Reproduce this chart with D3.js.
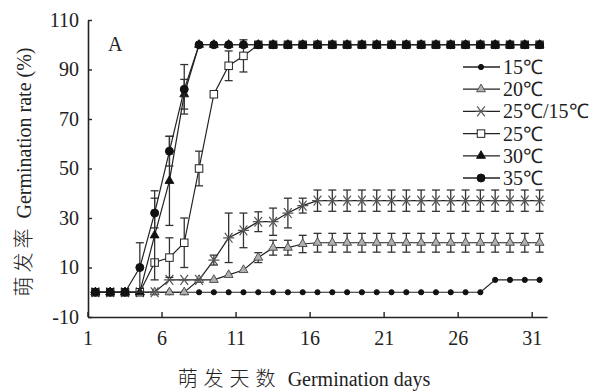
<!DOCTYPE html>
<html>
<head>
<meta charset="utf-8">
<script src="https://cdn.jsdelivr.net/npm/d3@7"></script>
<style>
  body { margin: 0; background: #fff; }
  svg { display: block; }
  text { font-family: "Liberation Serif", "Times New Roman", serif; fill: #222; }
</style>
</head>
<body>
<svg id="chart" width="596" height="392"></svg>
<script>
// days 1..31
const days = d3.range(1, 32);
const xTicks = [1, 6, 11, 16, 21, 26, 31];
const yTicks = [-10, 10, 30, 50, 70, 90, 110];

// germination rate (%) per day
const g15   = [0,0,0,0,0,0,0,0,0,0,0,0,0,0,0,0,0,0,0,0,0,0,0,0,0,0,0,5,5,5,5];
const g20   = [0,0,0,0,0,0,0,5,5,7,9,14,18,18,19.5,20,20,20,20,20,20,20,20,20,20,20,20,20,20,20,20];
const g2515 = [0,0,0,0,0,5,5,5,13,22,25,28.5,28.5,32,35,37,37,37,37,37,37,37,37,37,37,37,37,37,37,37,37];
const g25   = [0,0,0,0,12,14,20,50,80,91.5,95.5,100,100,100,100,100,100,100,100,100,100,100,100,100,100,100,100,100,100,100,100];
const g30   = [0,0,0,0,23,45,80,100,100,100,100,100,100,100,100,100,100,100,100,100,100,100,100,100,100,100,100,100,100,100,100];
const g35   = [0,0,0,10,32,57,82,100,100,100,100,100,100,100,100,100,100,100,100,100,100,100,100,100,100,100,100,100,100,100,100];

// standard errors
const e15   = [0,0,0,0,0,0,0,0,0,0,0,0,0,0,0,0,0,0,0,0,0,0,0,0,0,0,0,0,0,0,0];
const e20   = [0,0,0,0,0,0,0,0,0,0,0,2,3,3,3.5,3.8,3.8,3.8,3.8,3.8,3.8,3.8,3.8,3.8,3.8,3.8,3.8,3.8,3.8,3.8,3.8];
const e2515 = [0,0,0,0,0,0,0,0,2,10,7,4,5.5,6,3,4.3,4.3,4.3,4.3,4.3,4.3,4.3,4.3,4.3,4.3,4.3,4.3,4.3,4.3,4.3,4.3];
const e25   = [0,0,0,0,0,8,10,7,1,6,6.5,0,0,0,0,0,0,0,0,0,0,0,0,0,0,0,0,0,0,0,0];
const e30   = [0,0,0,0,18,18,6,0,0,0,0,0,0,0,0,0,0,0,0,0,0,0,0,0,0,0,0,0,0,0,0];
const e35   = [0,0,0,10,6,6,10,0,0,0,0,0,0,0,0,0,0,0,0,0,0,0,0,0,0,0,0,0,0,0,0];

const seriesNames = ["15℃", "20℃", "25℃/15℃", "25℃", "30℃", "35℃"];

const series = [
  { name: seriesNames[0], vals: g15,   errs: e15,   mark: "circle",   size: 2.6, fill: "#111", stroke: "#111" },
  { name: seriesNames[1], vals: g20,   errs: e20,   mark: "triangle", size: 34,  fill: "#b0b0b0", stroke: "#444" },
  { name: seriesNames[2], vals: g2515, errs: e2515, mark: "star",     size: 5.5, fill: "none", stroke: "#555" },
  { name: seriesNames[3], vals: g25,   errs: e25,   mark: "square",   size: 7.5, fill: "#fff", stroke: "#222" },
  { name: seriesNames[4], vals: g30,   errs: e30,   mark: "triangle", size: 34,  fill: "#111", stroke: "#111" },
  { name: seriesNames[5], vals: g35,   errs: e35,   mark: "circle",   size: 4,   fill: "#111", stroke: "#111" }
];

const svg = d3.select("#chart");
const mLeft = 88, mRight = 547, mTop = 20, mBottom = 317;

const x = d3.scaleBand().domain(days).range([mLeft, mRight]).padding(0);
const cx = d => x(d) + x.bandwidth() / 2;
const y = d3.scaleLinear().domain([-10, 110]).range([mBottom, mTop]);

// axes
const xAxis = d3.axisBottom(x).tickValues(xTicks).tickSize(-5).tickSizeOuter(0).tickPadding(14);
const gx = svg.append("g").attr("transform", `translate(0,${mBottom})`).call(xAxis);
gx.selectAll(".tick line").attr("transform", `translate(${-x.bandwidth() / 2},0)`);
gx.selectAll(".tick text").attr("transform", `translate(${-x.bandwidth() / 2},0)`);

const yAxis = d3.axisLeft(y).tickValues(yTicks).tickFormat(d => String(d))
  .tickSize(-4).tickSizeOuter(0).tickPadding(9);
const gy = svg.append("g").attr("transform", `translate(${mLeft},0)`).call(yAxis);

svg.selectAll(".domain").attr("stroke", "#222").attr("stroke-width", 1.6);
svg.selectAll(".tick line").attr("stroke", "#222").attr("stroke-width", 1.4);
svg.selectAll(".tick text").attr("font-size", 20).attr("font-family", "Liberation Serif").attr("fill", "#222");

// axis titles
svg.append("text")
  .attr("x", 304).attr("y", 386)
  .attr("text-anchor", "middle")
  .attr("font-size", 20)
  .html('<tspan font-family="Noto Sans CJK SC" font-weight="300" letter-spacing="6">萌发天数</tspan><tspan dx="6">Germination days</tspan>');

svg.append("text")
  .attr("transform", "translate(31,172) rotate(-90)")
  .attr("text-anchor", "middle")
  .attr("font-size", 20)
  .html('<tspan font-family="Noto Sans CJK SC" font-weight="300" letter-spacing="4">萌发率</tspan><tspan dx="6">Germination rate (%)</tspan>');

svg.append("text").attr("x", 108).attr("y", 51).attr("font-size", 20).text("A");

// marker drawing
function drawMark(g, s) {
  if (s.mark === "circle") {
    g.append("circle").attr("r", s.size).attr("fill", s.fill).attr("stroke", s.stroke);
  } else if (s.mark === "triangle") {
    g.append("path").attr("d", d3.symbol(d3.symbolTriangle, s.size)())
      .attr("fill", s.fill).attr("stroke", s.stroke).attr("stroke-width", 0.9);
  } else if (s.mark === "square") {
    g.append("rect").attr("x", -s.size / 2).attr("y", -s.size / 2)
      .attr("width", s.size).attr("height", s.size)
      .attr("fill", s.fill).attr("stroke", s.stroke).attr("stroke-width", 1);
  } else if (s.mark === "star") {
    const r = s.size;
    g.append("path")
      .attr("d", `M${-r},0H${r}M${-r * 0.7},${-r * 0.9}L${r * 0.7},${r * 0.9}M${-r * 0.7},${r * 0.9}L${r * 0.7},${-r * 0.9}`)
      .attr("stroke", s.stroke).attr("stroke-width", 1.2).attr("fill", "none");
  }
}

const line = d3.line().x(d => cx(d.day)).y(d => y(d.v));

series.forEach(s => {
  const pts = days.map((d, i) => ({ day: d, v: s.vals[i], e: s.errs[i] }));
  const g = svg.append("g");

  // error bars
  const eb = g.selectAll(".err").data(pts.filter(p => p.e > 0)).join("g")
    .attr("stroke", "#333").attr("stroke-width", 1.3);
  eb.append("line").attr("x1", p => cx(p.day)).attr("x2", p => cx(p.day))
    .attr("y1", p => y(p.v - p.e)).attr("y2", p => y(p.v + p.e));
  eb.append("line").attr("x1", p => cx(p.day) - 4).attr("x2", p => cx(p.day) + 4)
    .attr("y1", p => y(p.v + p.e)).attr("y2", p => y(p.v + p.e));
  eb.append("line").attr("x1", p => cx(p.day) - 4).attr("x2", p => cx(p.day) + 4)
    .attr("y1", p => y(p.v - p.e)).attr("y2", p => y(p.v - p.e));

  g.append("path").datum(pts).attr("d", line)
    .attr("fill", "none").attr("stroke", "#222").attr("stroke-width", 1.2);

  g.selectAll(".mk").data(pts).join("g")
    .attr("transform", p => `translate(${cx(p.day)},${y(p.v)})`)
    .each(function () { drawMark(d3.select(this), s); });
});

// legend
const legend = svg.append("g");
series.forEach((s, i) => {
  const ly = 67 + i * 22.2;
  legend.append("line").attr("x1", 463).attr("x2", 500).attr("y1", ly).attr("y2", ly)
    .attr("stroke", "#222").attr("stroke-width", 1.3);
  const mg = legend.append("g").attr("transform", `translate(481,${ly})`);
  drawMark(mg, s);
  legend.append("text").attr("x", 503).attr("y", ly + 7).attr("font-size", 20).text(s.name);
});
</script>
</body>
</html>
